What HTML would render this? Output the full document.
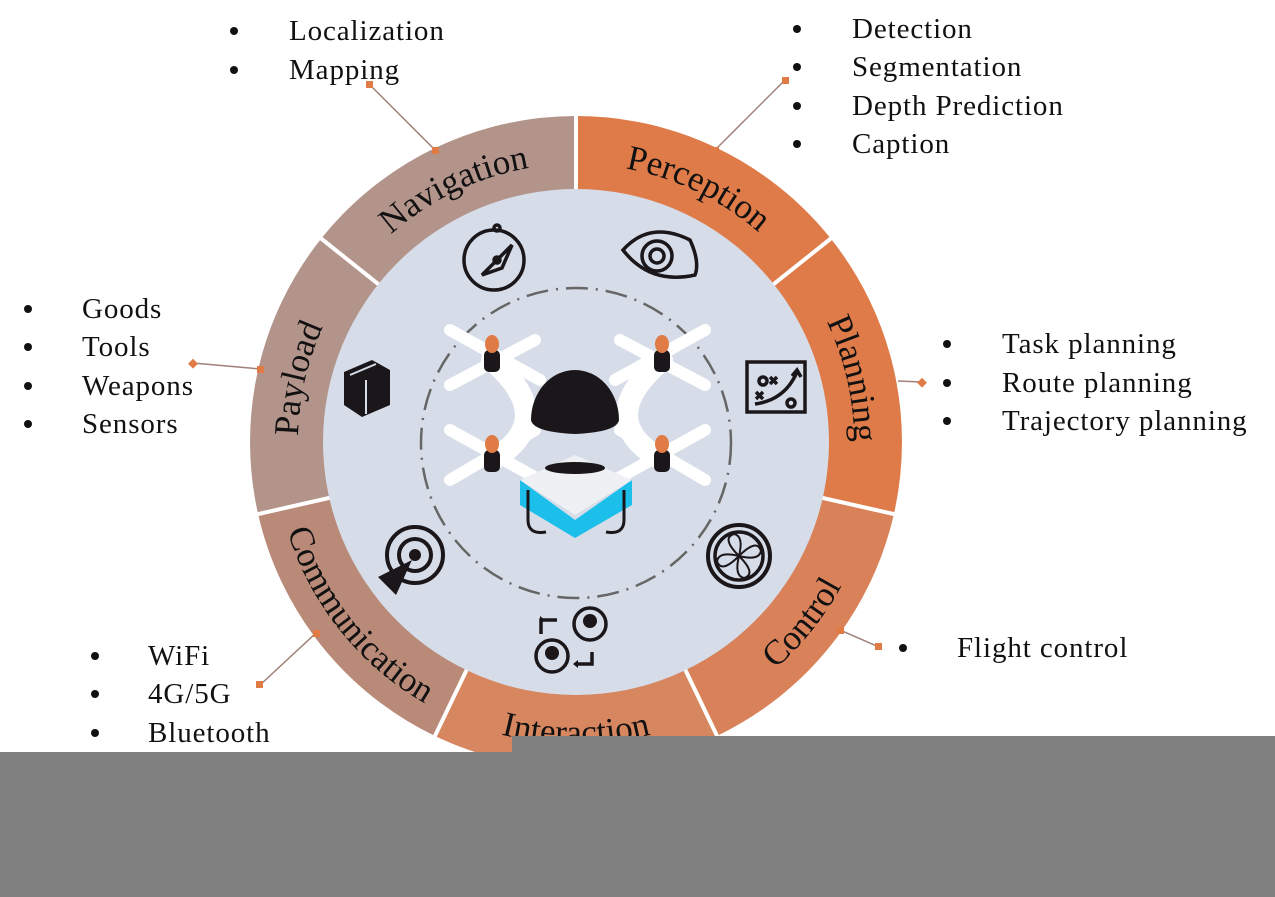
<!DOCTYPE html>
<html><head><meta charset="utf-8"><style>
body{margin:0;width:1275px;height:897px;background:#fff;overflow:hidden;position:relative;font-family:"Liberation Serif",serif}
.t{position:absolute;font-size:29px;letter-spacing:0.9px;color:#111;line-height:1;white-space:nowrap}
.b{position:absolute;width:8px;height:8px;border-radius:50%;background:#111}
</style></head><body>
<svg width="1275" height="897" style="position:absolute;left:0;top:0">
<g stroke="none">
<path d="M576,442 L576,116 A326,326 0 0 1 830.9,238.8 Z" fill="#df7b48"/>
<path d="M576,442 L830.9,238.8 A326,326 0 0 1 893.8,514.5 Z" fill="#df7b48"/>
<path d="M576,442 L893.8,514.5 A326,326 0 0 1 717.5,735.7 Z" fill="#d9825a"/>
<path d="M576,442 L717.5,735.7 A326,326 0 0 1 434.5,735.7 Z" fill="#d6875f"/>
<path d="M576,442 L434.5,735.7 A326,326 0 0 1 258.2,514.5 Z" fill="#b98a78"/>
<path d="M576,442 L258.2,514.5 A326,326 0 0 1 321.1,238.8 Z" fill="#b3948b"/>
<path d="M576,442 L321.1,238.8 A326,326 0 0 1 576,116 Z" fill="#b3948b"/>
</g>
<g stroke="#fff" stroke-width="4">
<line x1="576" y1="442" x2="576" y2="112"/><line x1="576" y1="442" x2="834" y2="236"/>
<line x1="576" y1="442" x2="898" y2="515"/><line x1="576" y1="442" x2="719" y2="740"/>
<line x1="576" y1="442" x2="433" y2="740"/><line x1="576" y1="442" x2="254" y2="515"/>
<line x1="576" y1="442" x2="318" y2="236"/>
</g>
<circle cx="576" cy="442" r="253" fill="#d6dce8"/>
<circle cx="576" cy="443" r="155" fill="none" stroke="#666" stroke-width="2.5" stroke-dasharray="22 8 2 8"/>
<defs>
<path id="p1" d="M352,277.4 A278,278 0 0 1 587.1,164.2"/>
<path id="p2" d="M564.9,164.2 A278,278 0 0 1 800,277.4"/>
<path id="p3" d="M786.3,260.1 A278,278 0 0 1 844.4,514.6"/>
<path id="p4" d="M307.6,514.6 A278,278 0 0 1 365.7,260.1"/>
<path id="p5" d="M696.1,719.1 A302,302 0 0 0 872.9,497.4"/>
<path id="p6" d="M434.2,708.6 A302,302 0 0 0 717.8,708.6"/>
<path id="p7" d="M279.1,497.4 A302,302 0 0 0 455.9,719.1"/>
</defs>
<g font-family="Liberation Serif,serif" font-size="35" fill="#111" text-anchor="middle">
<text><textPath href="#p1" startOffset="50%">Navigation</textPath></text>
<text><textPath href="#p2" startOffset="50%">Perception</textPath></text>
<text><textPath href="#p3" startOffset="50%">Planning</textPath></text>
<text><textPath href="#p4" startOffset="50%">Payload</textPath></text>
<text><textPath href="#p5" startOffset="50%">Control</textPath></text>
<text><textPath href="#p6" startOffset="50%">Interaction</textPath></text>
<text><textPath href="#p7" startOffset="50%">Communication</textPath></text>
</g>
<!-- icons -->
<g fill="none" stroke="#1a1619" stroke-width="3.5">
<circle cx="494" cy="260" r="30"/><circle cx="497" cy="228" r="3"/>
<path d="M482,275 L512,245 L502,268 Z"/><circle cx="497" cy="260" r="3"/>
<path d="M623,250 Q650,220 690,240 Q700,262 695,275 Q650,285 623,250 Z"/>
<circle cx="657" cy="256" r="15"/><circle cx="657" cy="256" r="7"/>
<rect x="747" y="362" width="58" height="50"/>
<path d="M755,404 Q785,400 797,372 M792,376 L797,370 L801,377"/>
<circle cx="763" cy="381" r="4"/><circle cx="791" cy="403" r="4"/>
<path d="M770,377 l7,7 m0,-7 l-7,7 M756,392 l7,7 m0,-7 l-7,7"/>
<circle cx="739" cy="556" r="31" stroke-width="4"/><circle cx="739" cy="556" r="24"/>
<path d="M739,556 q-18,-18 -5,-22 q10,2 5,22 q18,-18 22,-5 q-2,10 -22,5 q18,18 5,22 q-10,-2 -5,-22 q-18,18 -22,5 q2,-10 22,-5" stroke-width="2"/>
<circle cx="415" cy="555" r="28" stroke-width="4"/><circle cx="415" cy="555" r="16" stroke-width="4"/>
<path d="M541,634 v-14 h16 M592,652 v12 h-16"/>
<circle cx="590" cy="624" r="16"/><circle cx="552" cy="656" r="16"/>
</g>
<g fill="#1a1619">
<circle cx="415" cy="555" r="6"/><path d="M378,577 L412,560 L396,595 Z"/>
<path d="M545,620 l-5,-4 v8 Z M573,664 l5,-4 v8 Z"/>
<circle cx="590" cy="621" r="7"/><circle cx="552" cy="653" r="7"/>
<path d="M344,372 L372,360 L390,370 L390,405 L362,417 L344,405 Z"/>
</g>
<path d="M350,375 L376,364 M366,380 L366,414" stroke="#d6dce8" stroke-width="2" fill="none"/>
<!-- drone -->
<g stroke="#fff" stroke-width="12" stroke-linecap="round" fill="none">
<path d="M450,330 L540,380 M450,385 L535,340 M705,330 L615,380 M705,385 L620,340"/>
<path d="M450,430 L540,480 M450,480 L535,430 M705,430 L615,480 M705,480 L620,430"/>
<path d="M492,360 Q560,420 492,460 M662,360 Q592,420 662,460" stroke-width="22"/>
</g>
<path d="M520,480 L575,520 L632,480 L632,505 L575,538 L520,505 Z" fill="#1cbfea"/>
<path d="M520,480 L575,455 L632,480 L575,515 Z" fill="#eef0f4"/>
<path d="M528,490 v30 q0,15 18,12 M624,490 v30 q0,15 -18,12" stroke="#1a1619" stroke-width="3" fill="none"/>
<ellipse cx="575" cy="468" rx="30" ry="6" fill="#1a1619"/>
<path d="M531,420 A44,50 0 0 1 619,420 Q617,432 575,434 Q533,432 531,420 Z" fill="#1a1619"/>
<g fill="#1a1619">
<rect x="484" y="350" width="16" height="22" rx="5"/><rect x="654" y="350" width="16" height="22" rx="5"/>
<rect x="484" y="450" width="16" height="22" rx="5"/><rect x="654" y="450" width="16" height="22" rx="5"/>
</g>
<g fill="#e07b45">
<ellipse cx="492" cy="344" rx="7" ry="9"/><ellipse cx="662" cy="344" rx="7" ry="9"/>
<ellipse cx="492" cy="444" rx="7" ry="9"/><ellipse cx="662" cy="444" rx="7" ry="9"/>
</g>
<!-- leader lines -->
<g stroke="#a08078" stroke-width="1.5">
<line x1="369" y1="84" x2="435" y2="150"/><line x1="785" y1="80" x2="715" y2="150"/>
<line x1="193" y1="363" x2="260" y2="369"/><line x1="922" y1="382" x2="898" y2="381"/>
<line x1="260" y1="685" x2="316" y2="633"/><line x1="879" y1="647" x2="840" y2="630"/>
</g>
<g fill="#e07b45">
<rect x="366" y="81" width="7" height="7"/><rect x="432" y="147" width="7" height="7"/>
<rect x="782" y="77" width="7" height="7"/><rect x="712" y="147" width="7" height="7"/>
<rect x="190" y="360" width="7" height="7" transform="rotate(45 193 363)"/><rect x="257" y="366" width="7" height="7"/>
<rect x="919" y="379" width="7" height="7" transform="rotate(45 922 382)"/>
<rect x="256" y="681" width="7" height="7"/><rect x="313" y="630" width="7" height="7"/>
<rect x="875" y="643" width="7" height="7"/><rect x="837" y="627" width="7" height="7"/>
</g>
</svg>

<div class="b" style="left:230px;top:27px"></div><div class="t" style="left:289px;top:17px">Localization</div>
<div class="b" style="left:230px;top:66px"></div><div class="t" style="left:289px;top:56px">Mapping</div>

<div class="b" style="left:793px;top:25px"></div><div class="t" style="left:852px;top:15px">Detection</div>
<div class="b" style="left:793px;top:63px"></div><div class="t" style="left:852px;top:53px">Segmentation</div>
<div class="b" style="left:793px;top:102px"></div><div class="t" style="left:852px;top:92px">Depth Prediction</div>
<div class="b" style="left:793px;top:140px"></div><div class="t" style="left:852px;top:130px">Caption</div>

<div class="b" style="left:24px;top:305px"></div><div class="t" style="left:82px;top:295px">Goods</div>
<div class="b" style="left:24px;top:343px"></div><div class="t" style="left:82px;top:333px">Tools</div>
<div class="b" style="left:24px;top:382px"></div><div class="t" style="left:82px;top:372px">Weapons</div>
<div class="b" style="left:24px;top:420px"></div><div class="t" style="left:82px;top:410px">Sensors</div>

<div class="b" style="left:943px;top:340px"></div><div class="t" style="left:1002px;top:330px">Task planning</div>
<div class="b" style="left:943px;top:379px"></div><div class="t" style="left:1002px;top:369px">Route planning</div>
<div class="b" style="left:943px;top:417px"></div><div class="t" style="left:1002px;top:407px">Trajectory planning</div>

<div class="b" style="left:91px;top:652px"></div><div class="t" style="left:148px;top:642px">WiFi</div>
<div class="b" style="left:91px;top:690px"></div><div class="t" style="left:148px;top:680px">4G/5G</div>
<div class="b" style="left:91px;top:729px"></div><div class="t" style="left:148px;top:719px">Bluetooth</div>

<div class="b" style="left:899px;top:644px"></div><div class="t" style="left:957px;top:634px">Flight control</div>

<div style="position:absolute;left:0;top:752px;width:512px;height:145px;background:#808080"></div>
<div style="position:absolute;left:512px;top:736px;width:763px;height:161px;background:#808080"></div>
</body></html>
